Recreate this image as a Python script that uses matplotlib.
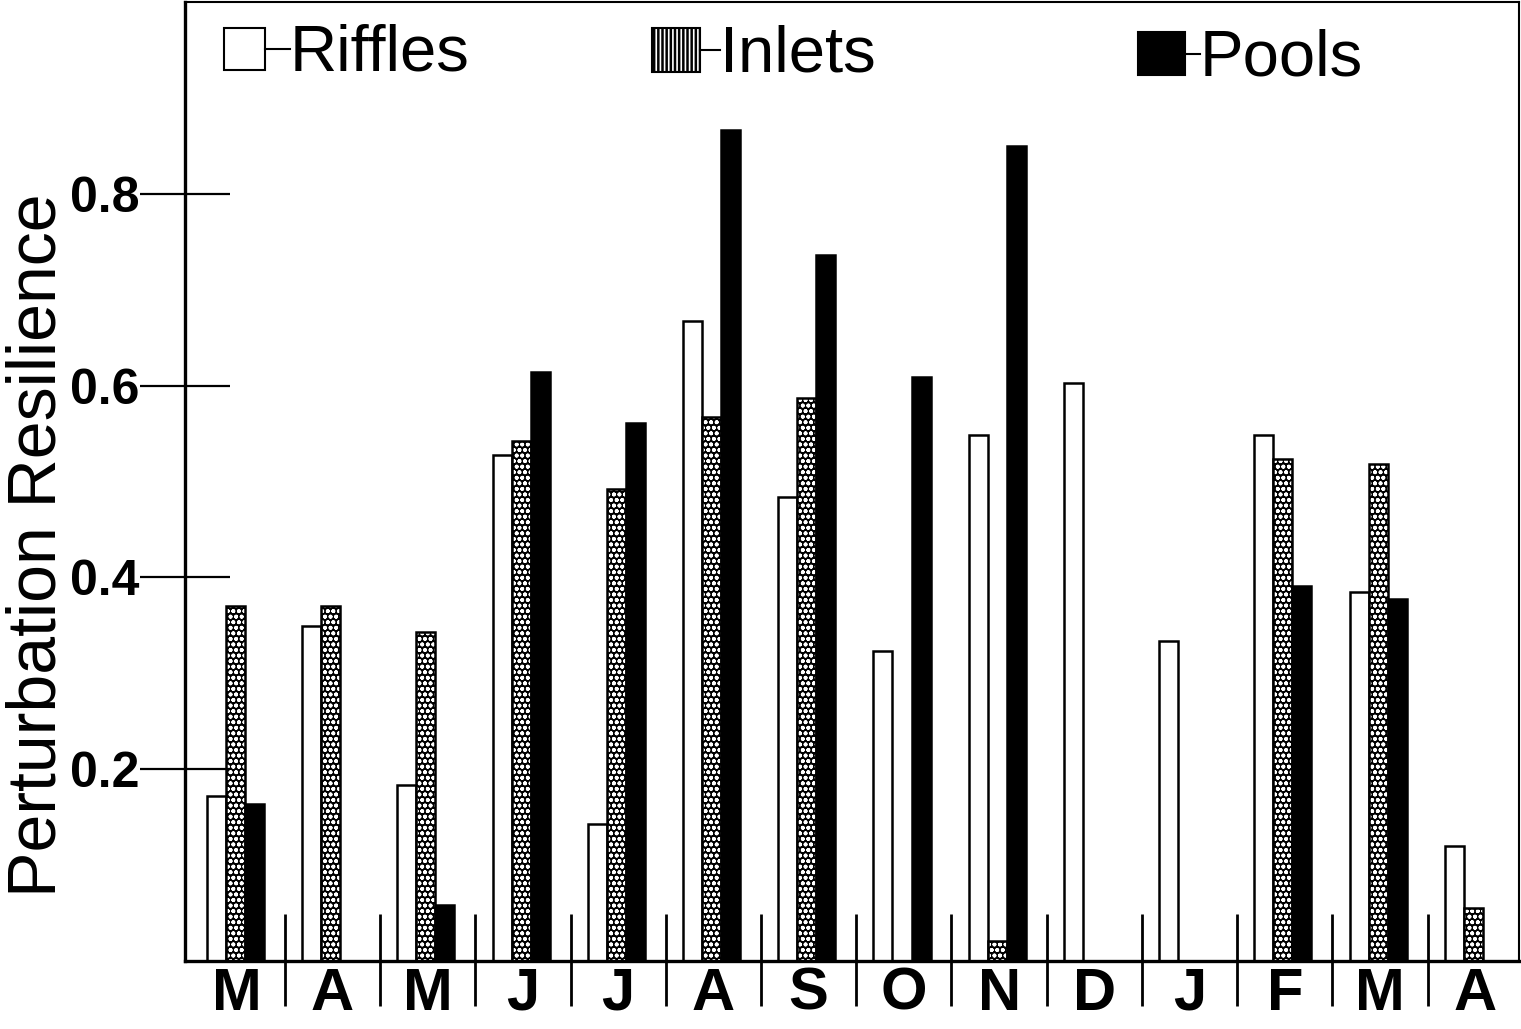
import matplotlib
matplotlib.use("Agg")
import matplotlib.pyplot as plt
from matplotlib.patches import Rectangle
import numpy as np

plt.rcParams['font.family'] = ['Liberation Sans', 'DejaVu Sans']

# Данные
months = ["M", "A", "M", "J", "J", "A", "S", "O", "N", "D", "J", "F", "M", "A"]
riffles = [0.172, 0.349, 0.184, 0.528, 0.143, 0.667, 0.484, 0.323, 0.548, 0.603, 0.334, 0.548, 0.385, 0.120]
inlets = [0.370, 0.370, 0.343, 0.542, 0.492, 0.567, 0.587, 0.0, 0.021, 0.0, 0.0, 0.524, 0.518, 0.055]
pools = [0.164, 0.0, 0.058, 0.614, 0.561, 0.867, 0.736, 0.609, 0.850, 0.0, 0.0, 0.391, 0.377, 0.0]
yticks = [0.2, 0.4, 0.6, 0.8]
ytick_labels = ["0.2", "0.4", "0.6", "0.8"]

x = np.arange(len(months))
w = 0.2

fig = plt.figure(figsize=(15.21, 10.29), dpi=100)
ax = fig.add_axes([0.1216, 0.0661, 0.8771, 0.9319])

# Столбцы
ax.bar(x - 0.22, riffles, w, facecolor="white", edgecolor="black", linewidth=1.8)
plt.rcParams['hatch.linewidth'] = 1.2
ax.bar(x - 0.02, inlets, w, facecolor="black", edgecolor="white", hatch="ooo", linewidth=0)
ax.bar(x - 0.02, inlets, w, fill=False, edgecolor="black", linewidth=1.8)
ax.bar(x + 0.18, pools, w, facecolor="black", edgecolor="black", linewidth=1.8)

# Разделители месяцев
ax.vlines(x[1:] - 0.5, -0.047, 0.049, color="black", linewidth=2, clip_on=False)

ax.set_xlim(-0.55, 13.46)
ax.set_ylim(0, 1.0)

ax.set_xticks(x)
ax.set_xticklabels(months, fontsize=43, fontweight="bold")
ax.tick_params(axis="x", length=0, pad=4)

ax.set_yticks(yticks)
ax.set_yticklabels(ytick_labels, fontsize=36, fontweight="bold")
ax.tick_params(axis="y", direction="inout", length=65, width=1.6, pad=0)

for side in ["left", "bottom"]:
    ax.spines[side].set_linewidth(2.4)
for side in ["top", "right"]:
    ax.spines[side].set_linewidth(1.5)

# Легенда
legend_items = [
    ("Riffles", 0.0292, 0.9291, 0.0308, 0.0438, 0.0187, dict(facecolor="white", edgecolor="black")),
    ("Inlets", 0.3501, 0.9270, 0.0360, 0.0459, 0.0150, dict(facecolor="black", edgecolor="white", hatch="||||")),
    ("Pools", 0.7144, 0.9239, 0.0352, 0.0448, 0.0110, dict(facecolor="black", edgecolor="black")),
]
for label, lx, ly, lw, lh, dash, style in legend_items:
    ax.add_patch(Rectangle((lx, ly), lw, lh, transform=ax.transAxes,
                           linewidth=1.5 if style["edgecolor"] == "black" else 0,
                           clip_on=False, **style))
    if style["edgecolor"] == "white":
        ax.add_patch(Rectangle((lx, ly), lw, lh, transform=ax.transAxes, fill=False,
                               edgecolor="black", linewidth=1.5, clip_on=False))
    ax.plot([lx + lw, lx + lw + dash], [ly + lh / 2, ly + lh / 2], color="black",
            linewidth=1.5, transform=ax.transAxes, clip_on=False)
    ax.text(lx + lw + dash, ly + lh / 2 - 0.005, label, transform=ax.transAxes,
            fontsize=47, ha="left", va="center")

fig.text(38 / 1521, 1 - 545 / 1029, "Perturbation Resilience", rotation=90,
         fontsize=49, ha="center", va="center")

fig.savefig("out.png", dpi=100)
